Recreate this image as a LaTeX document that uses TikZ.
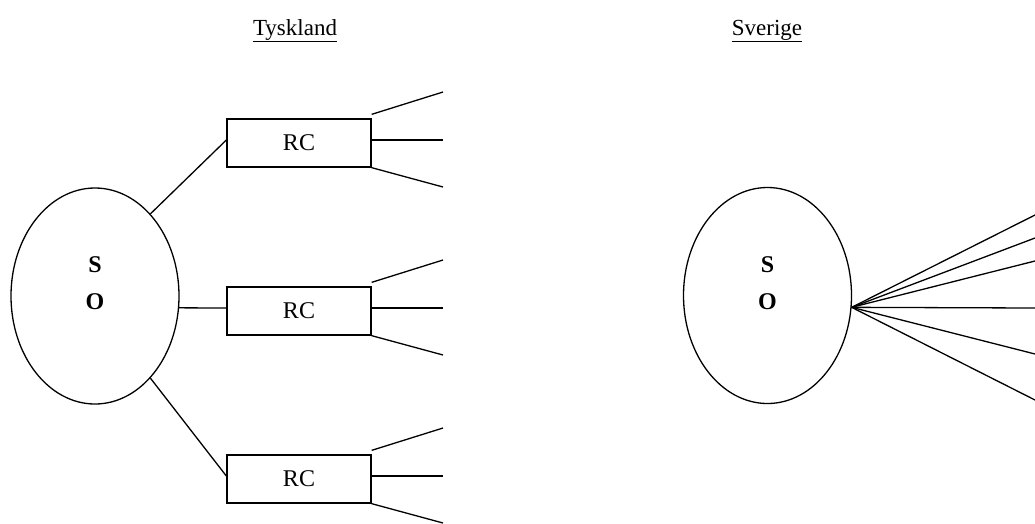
\documentclass[tikz,border=0pt]{standalone}
\usepackage{fontspec}
\setmainfont{Liberation Serif}
\usetikzlibrary{shapes.geometric}
\begin{document}
\begin{tikzpicture}[x=1pt,y=-1pt,
  so/.style={ellipse,draw,line width=1.3pt,minimum width=168pt,minimum height=216pt,inner sep=0pt},
  rcbox/.style={draw,line width=1.3pt,minimum width=144pt,minimum height=48pt,inner sep=0pt,font=\fontsize{24}{28}\selectfont},
  wire/.style={line width=1.3pt},
  title/.style={font=\fontsize{23}{27}\selectfont,inner sep=0pt,anchor=base},
  solbl/.style={font=\fontsize{24}{37}\selectfont\bfseries,align=center,inner sep=0pt}]
\useasboundingbox (0,0) rectangle (1035,523);

% titles
\node[title] (t1) at (295,35) {\underline{Tyskland}};
\node[title] (t2) at (767,35) {\underline{Sverige}};

% Tyskland
\node[so] (so1) at (95,296) {};
\node[solbl] (so1t) at (95,283) {S\\O};

\foreach \i/\c in {1/143,2/311,3/479}{
  \node[rcbox] (rc\i) at (299,\c) {RC};
  \coordinate (rc\i a) at (443,\c-51);
  \coordinate (rc\i b) at (443,\c-3);
  \coordinate (rc\i c) at (443,\c+44);
  \draw[wire] ([yshift=4pt]rc\i.north east) -- (rc\i a);
  \draw[wire] ([yshift=3pt]rc\i.east) -- (rc\i b);
  \draw[wire] (rc\i.south east) -- (rc\i c);
}
\draw[wire] (so1.56) -- ([yshift=3pt]rc1.west);
\draw[wire] (so1.-8) -- ([yshift=3pt]rc2.west);
\draw[wire] (so1.-56) -- ([yshift=3pt]rc3.west);

% Sverige
\node[so] (so2) at (767.5,295.5) {};
\node[solbl] (so2t) at (767.5,283) {S\\O};
\coordinate (fan) at (so2.-8.5);
\foreach \j/\y in {1/215,2/238,3/261,4/308,5/354,6/400}{
  \coordinate (e\j) at (1035,\y);
  \draw[wire] (fan) -- (e\j);
}
\end{tikzpicture}
\end{document}
